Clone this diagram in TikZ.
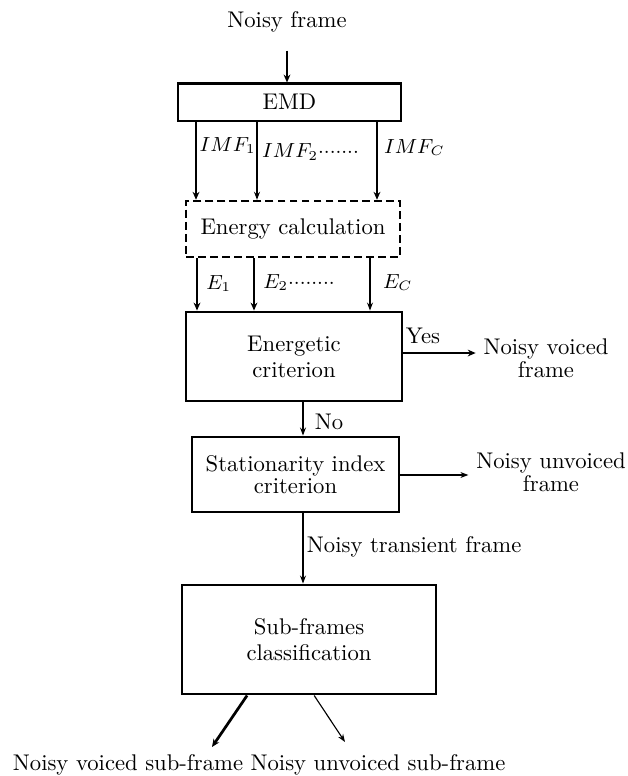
\documentclass[tikz,border=0pt]{standalone}
\usepackage{amsmath}
\usetikzlibrary{arrows.meta}
\usetikzlibrary{positioning}

\newcommand{\dotrun}[1]{\foreach \k in {1,...,#1}{{\cdot}}}

\begin{document}
\begin{tikzpicture}[x=0.0155cm,y=-0.0155cm,
		every node/.style={font=\fontsize{10}{10}\selectfont},
		box/.style={draw, line width=1.3pt, align=center, inner sep=0pt},
		outtext/.style={align=center, inner sep=3.3pt},
		mathlbl/.style={font=\fontsize{9}{9}\selectfont},
		thickarr/.style={line width=1.2pt, -{Stealth[length=3.5pt,width=3pt]}},
		thinarr/.style={line width=0.5pt, -{Stealth[length=3.5pt,width=2.6pt]}}]
		\useasboundingbox (0,0) rectangle (628,776);
		% blocks
		\path 	(287,22)	node (nf) {Noisy frame}
			(289.5,102)	node[box, line width=0.9pt, minimum width=3.457cm, minimum height=0.574cm] (emd) {EMD}
			(293,229)	node[box, line width=1.1pt, dash pattern=on 3.5pt off 1.8pt, minimum width=3.317cm, minimum height=0.868cm] (en) {Energy calculation}
			(294,356.5)	node[box, minimum width=3.348cm, minimum height=1.38cm] (ec) {Energetic\\[1.5pt] criterion}
			(295.5,474.5)	node[box, minimum width=3.209cm, minimum height=1.163cm] (si) {Stationarity index\\ criterion}
			(309,639.5)	node[box, minimum width=3.937cm, minimum height=1.69cm] (sf) {Sub-frames\\[1.5pt] classification}
			(546,358)	node[outtext] (vf) {Noisy voiced\\ frame}
			(551,472)	node[outtext] (uf) {Noisy unvoiced\\ frame}
			(128,765)	node (vsf) {Noisy voiced sub-frame}
			(378,765)	node (usf) {Noisy unvoiced sub-frame};
		% x positions of the branches
		\coordinate (i1) at (196,0);
		\coordinate (i2) at (257,0);
		\coordinate (i3) at (377,0);
		\coordinate (e1) at (197,0);
		\coordinate (e2) at (254,0);
		\coordinate (e3) at (370,0);
		\coordinate (mid) at (303,0);
		\coordinate (vend) at (212,747);
		\coordinate (uend) at (345,742);
		\draw[thickarr, shorten <=4.5pt] (nf.south) -- (nf.south |- emd.north);
		\draw[thickarr] (emd.south -| i1) -- node[mathlbl, pos=0.31, right, inner sep=1pt] {$IMF_1$} (en.north -| i1);
		\draw[thinarr] (emd.south -| i2) -- node[mathlbl, pos=0.39, right, inner sep=2pt] {$IMF_2\dotrun{7}$} (en.north -| i2);
		\draw[thickarr] (emd.south -| i3) -- node[mathlbl, pos=0.33, right, inner sep=2.5pt] {$IMF_C$} (en.north -| i3);
		\draw[thickarr] (en.south -| e1) -- node[mathlbl, pos=0.49, right, inner sep=3.5pt] {$E_1$} (ec.north -| e1);
		\draw[thickarr] (en.south -| e2) -- node[mathlbl, pos=0.47, right, inner sep=3.5pt] {$E_2\dotrun{8}$} (ec.north -| e2);
		\draw[thinarr] (en.south -| e3) -- node[mathlbl, pos=0.47, right, inner sep=5.5pt] {$E_C$} (ec.north -| e3);
		\draw[thickarr] (ec.east |- vf.west) ++(0,-5) coordinate (ys) (ys) -- node[pos=0.27, above] {Yes} (ys -| vf.west);
		\draw[thinarr] (ec.south -| mid) -- node[pos=0.58, right, inner sep=5pt] {No} (si.north -| mid);
		\draw[thinarr] (si.east |- uf.west) ++(0,3) coordinate (us) (us) -- (us -| uf.west);
		\draw[thinarr] (si.south -| mid) -- node[pos=0.48, right, inner sep=1.5pt] {Noisy transient frame} (sf.north -| mid);
		\draw[thickarr] ([xshift=-0.96cm]sf.south) -- (vend);
		\draw[thinarr] ([xshift=0.08cm]sf.south) -- (uend);
	\end{tikzpicture}
\end{document}
